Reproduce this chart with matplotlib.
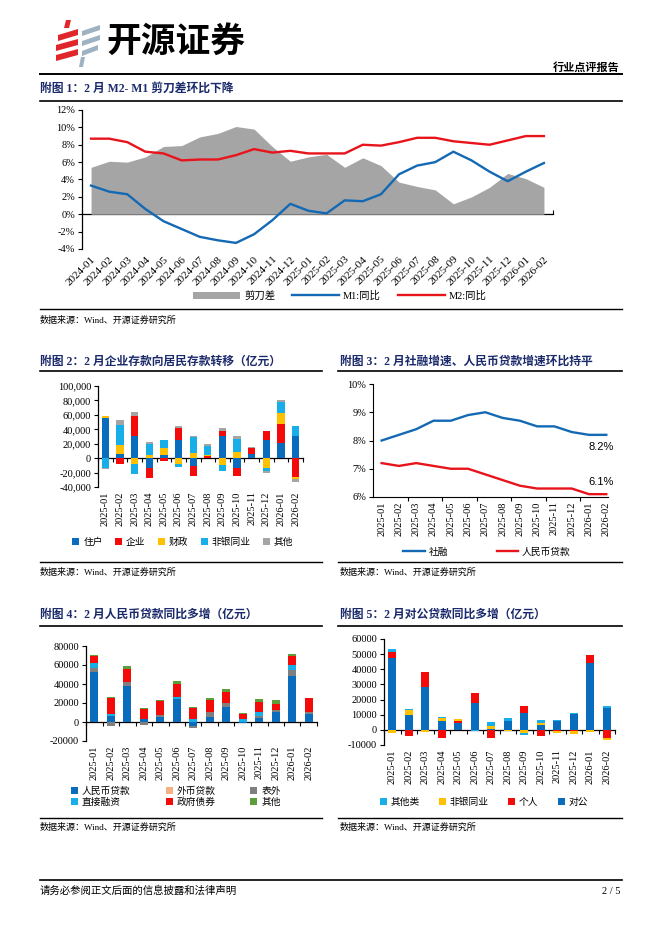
import matplotlib
matplotlib.use('Agg')
import matplotlib.pyplot as plt
from matplotlib.lines import Line2D
from matplotlib.patches import Patch, Polygon
from matplotlib.ticker import FuncFormatter
import numpy as np

plt.rcParams['font.family'] = ['Liberation Serif', 'Noto Sans CJK SC']
plt.rcParams['axes.unicode_minus'] = False

W, H = 662, 936
NAVY = '#1B2A6B'
BLUE = '#1469B4'
RED = '#E8141B'
BAR_BLUE = '#0A6CBD'
BAR_RED = '#F50A0A'
YELLOW = '#FFC000'
CYAN = '#18AEE8'
GRAY = '#A5A5A5'
GREEN = '#5E9E3A'
PEACH = '#F4B183'

# ---- 附图1: M1 / M2 / 剪刀差 ----
months_a = ['2024-01', '2024-02', '2024-03', '2024-04', '2024-05', '2024-06', '2024-07',
            '2024-08', '2024-09', '2024-10', '2024-11', '2024-12', '2025-01', '2025-02',
            '2025-03', '2025-04', '2025-05', '2025-06', '2025-07', '2025-08', '2025-09',
            '2025-10', '2025-11', '2025-12', '2026-01', '2026-02']
gap = [5.4, 6.1, 6.0, 6.6, 7.8, 7.9, 8.9, 9.3, 10.1, 9.8, 7.8, 6.1, 6.6, 6.9,
       5.4, 6.5, 5.6, 3.7, 3.2, 2.8, 1.2, 2.0, 3.1, 4.7, 4.1, 3.1]
m1 = [3.3, 2.6, 2.3, 0.6, -0.8, -1.7, -2.6, -3.0, -3.3, -2.3, -0.7, 1.2, 0.4, 0.1,
      1.6, 1.5, 2.3, 4.6, 5.6, 6.0, 7.2, 6.2, 4.9, 3.8, 4.9, 5.9]
m2 = [8.7, 8.7, 8.3, 7.2, 7.0, 6.2, 6.3, 6.3, 6.8, 7.5, 7.1, 7.3, 7.0, 7.0,
      7.0, 8.0, 7.9, 8.3, 8.8, 8.8, 8.4, 8.2, 8.0, 8.5, 9.0, 9.0]

months_b = ['2025-01', '2025-02', '2025-03', '2025-04', '2025-05', '2025-06', '2025-07',
            '2025-08', '2025-09', '2025-10', '2025-11', '2025-12', '2026-01', '2026-02']

# ---- 附图2: 存款 (亿元) ----
dep_household = [55000, 6000, 30300, -13300, 4600, 24800, -11000, 0, 30300, -13800, 6000, 25300, 21100, 30300]
dep_corp = [0, -8700, 28500, -13800, -3700, 17000, -14300, 2800, 7800, -11000, 7800, 12400, 26200, -25700]
dep_fiscal = [3700, 12400, -7800, 3700, 9700, -7800, 7800, 1500, -9200, 8300, 0, -13800, 15200, -3700]
dep_nonbank = [-13000, 28000, -13800, 16000, 11500, -5000, 21600, 13000, -9200, 18400, 0, -4100, 14700, 13800]
dep_other = [-1500, 6400, 5500, 3200, 0, 3200, 1400, 2500, 3200, 3700, 1000, -3200, 3200, -3700]

# ---- 附图3: 增速 (%) ----
tsf_growth = [8.0, 8.2, 8.4, 8.7, 8.7, 8.9, 9.0, 8.8, 8.7, 8.5, 8.5, 8.3, 8.2, 8.2]
loan_growth = [7.2, 7.1, 7.2, 7.1, 7.0, 7.0, 6.8, 6.6, 6.4, 6.3, 6.3, 6.3, 6.1, 6.1]

# ---- 附图4: 社融分项 (亿元) ----
sf_rmb = [52300, 6300, 38200, 3200, 5600, 23900, -4200, 5600, 16100, -700, 3900, 10500, 48900, 8000]
sf_fx = [0, 0, 0, 0, 0, 0, 0, 0, 0, 0, 0, 0, 0, 0]
sf_offbs = [4900, -3900, 3500, -2800, 2100, 0, -1800, 4900, 4200, 0, 2100, 1800, 5900, 2800]
sf_direct = [5300, 2100, 0, 300, 0, 2100, 2800, 0, 0, 2800, 4900, 0, 4900, 0]
sf_gov = [7000, 16500, 14400, 9800, 14700, 13700, 11900, 13000, 11600, 5300, 10500, 6300, 10100, 14000]
sf_other = [1400, 1000, 2800, 1000, 1000, 3500, 1400, 1400, 2800, 1400, 3200, 4600, 1700, 700]

# ---- 附图5: 贷款分项 (亿元) ----
ln_corp = [47500, 10000, 28000, 5700, 4600, 17500, 800, 5700, 11400, 3300, 5900, 10700, 44200, 14700]
ln_personal = [3900, -4200, 10500, -5300, 1100, 6600, -5300, 0, 4600, -3900, -1000, -500, 5500, -5700]
ln_nonbank = [-2000, 2800, -1500, 2000, 1300, 0, 1500, -900, -2000, 1300, -1300, -2000, -1500, -1100]
ln_other = [2200, 1100, 0, 700, 0, -700, 2600, 2000, -1300, 1800, 700, 300, 0, 1300]


def box(l, t, r, b):
    return [l / W, 1 - b / H, (r - l) / W, (b - t) / H]


def hline(y, x0, x1, lw=1.0):
    fig.add_artist(Line2D([x0 / W, x1 / W], [1 - y / H, 1 - y / H], color='black', lw=lw))


def text(x, y, s, **kw):
    kw.setdefault('va', 'center')
    fig.text(x / W, 1 - y / H, s, **kw)


def poly(pts, color):
    fig.add_artist(Polygon([(x / W, 1 - y / H) for x, y in pts], closed=True,
                           transform=fig.transFigure, color=color, lw=0))


def stack(ax, series, colors, width=0.5):
    x = np.arange(len(series[0]))
    pos = np.zeros(len(x))
    neg = np.zeros(len(x))
    for vals, c in zip(series, colors):
        v = np.asarray(vals, float)
        p = np.where(v > 0, v, 0)
        n = np.where(v < 0, v, 0)
        ax.bar(x, p, width, bottom=pos, color=c, lw=0)
        ax.bar(x, n, width, bottom=neg, color=c, lw=0)
        pos += p
        neg += n


def cat_axis(ax, labels, ymin, ymax, step, fmt, rot=90, tick_dir='out', xsize=7.5):
    n = len(labels)
    ax.set_xlim(-0.5, n - 0.5)
    ax.set_ylim(ymin, ymax)
    ax.set_yticks(np.arange(ymin, ymax + step / 2, step))
    ax.yaxis.set_major_formatter(FuncFormatter(fmt))
    for s in ['top', 'right', 'bottom']:
        ax.spines[s].set_visible(False)
    ax.spines['left'].set_linewidth(0.9)
    if rot == 90:
        ax.set_xticks(range(n), labels, rotation=90)
    else:
        ax.set_xticks(range(n), labels, rotation=rot, ha='right', rotation_mode='anchor')
    ax.tick_params(axis='x', length=0, pad=3, labelsize=xsize)
    ax.tick_params(axis='y', length=3, width=0.8, labelsize=7.5, pad=2)
    zero = ax.secondary_xaxis((0 - ymin) / (ymax - ymin))
    zero.set_xticks(np.arange(-0.5, n))
    zero.tick_params(length=3, width=0.8, direction=tick_dir, labelbottom=False)
    zero.spines['bottom'].set_linewidth(0.9)


def legend(handles, labels, x, y, **kw):
    opts = dict(loc='center', frameon=False, fontsize=7, handletextpad=0.4,
                borderaxespad=0, borderpad=0)
    opts.update(kw)
    fig.legend(handles, labels, bbox_to_anchor=(x / W, 1 - y / H), **opts)


def sq(c):
    return Patch(facecolor=c, edgecolor='none')


fig = plt.figure(figsize=(W / 100, H / 100), dpi=100)

# ---------- header ----------
poly([(66, 20), (71, 20), (69, 28), (64, 28)], '#E0262B')
poly([(58, 35), (78, 29), (78, 35), (58, 41)], '#E0262B')
poly([(56, 45), (78, 39), (78, 45), (56, 51)], '#E0262B')
poly([(56, 55), (78, 49), (78, 55), (56, 61)], '#E0262B')
poly([(82, 31), (100, 25), (100, 30), (82, 36)], '#9DB2C2')
poly([(82, 41), (100, 35), (100, 40), (82, 46)], '#9DB2C2')
poly([(82, 51), (98, 45), (98, 50), (82, 56)], '#9DB2C2')
poly([(81, 57), (85, 57), (83, 67), (79, 67)], '#9DB2C2')
text(106, 41, '开源证券', fontsize=25, fontweight='bold', family='Noto Sans CJK SC')
text(620, 67, '行业点评报告', fontsize=8, fontweight='bold', ha='right')
hline(74, 40, 622, lw=1.4)

# ---------- 附图1 ----------
text(40, 89, '附图 1：2 月 M2- M1 剪刀差环比下降', fontsize=8.5, fontweight='bold', color=NAVY)
hline(101, 40, 622, lw=1.2)
ax1 = fig.add_axes(box(82, 110, 553, 249))
x1 = np.arange(len(months_a))
ax1.fill_between(x1, 0, gap, color=GRAY, lw=0)
ax1.plot(x1, m1, color=BLUE, lw=1.7)
ax1.plot(x1, m2, color=RED, lw=1.7)
cat_axis(ax1, months_a, -4, 12, 2, lambda v, p: f'{v:.0f}%', rot=45, tick_dir='in', xsize=8)
ax1.tick_params(axis='x', pad=4)
legend([Patch(facecolor=GRAY), Line2D([], [], color=BLUE, lw=1.7), Line2D([], [], color=RED, lw=1.7)],
       ['剪刀差', 'M1:同比', 'M2:同比'], 340, 296, ncol=3, handlelength=4.5, columnspacing=1.6,
       fontsize=7.5)
hline(309, 40, 622, lw=1.0)
text(40, 320, '数据来源：Wind、开源证券研究所', fontsize=6.5)

# ---------- 附图2 ----------
text(40, 362, '附图 2：2 月企业存款向居民存款转移（亿元）', fontsize=8.5, fontweight='bold', color=NAVY)
hline(371, 40, 322, lw=1.2)
ax2 = fig.add_axes(box(98, 386, 303, 487))
stack(ax2, [dep_household, dep_corp, dep_fiscal, dep_nonbank, dep_other],
      [BAR_BLUE, BAR_RED, YELLOW, CYAN, GRAY])
cat_axis(ax2, months_b, -40000, 100000, 20000, lambda v, p: f'{v:,.0f}')
legend([sq(c) for c in [BAR_BLUE, BAR_RED, YELLOW, CYAN, GRAY]],
       ['住户', '企业', '财政', '非银同业', '其他'], 183, 542, ncol=5,
       handlelength=0.7, handleheight=0.7, columnspacing=1.3)
hline(562, 40, 322, lw=1.0)
text(40, 572, '数据来源：Wind、开源证券研究所', fontsize=6.5)

# ---------- 附图3 ----------
text(340, 362, '附图 3：2 月社融增速、人民币贷款增速环比持平', fontsize=8.5, fontweight='bold', color=NAVY)
hline(371, 338, 622, lw=1.2)
ax3 = fig.add_axes(box(373, 384, 608, 497))
x3 = np.arange(len(months_b))
ax3.plot(x3, tsf_growth, color=BLUE, lw=1.7)
ax3.plot(x3, loan_growth, color=RED, lw=1.7)
ax3.set_xlim(-0.5, 13.1)
ax3.set_ylim(6, 10)
ax3.set_yticks(np.arange(6, 10.5, 1))
ax3.yaxis.set_major_formatter(FuncFormatter(lambda v, p: f'{v:.0f}%'))
for s in ['top', 'right']:
    ax3.spines[s].set_visible(False)
ax3.set_xticks(x3, months_b, rotation=90)
ax3.set_xticks(np.arange(1.5, 13, 2), minor=True)
ax3.tick_params(axis='x', which='major', length=0, pad=3, labelsize=7.5)
ax3.tick_params(axis='x', which='minor', length=3, width=0.8)
ax3.tick_params(axis='y', length=3, width=0.8, labelsize=7.5, pad=2)
ax3.annotate(f'{tsf_growth[-1]:.1f}%', (x3[-1], tsf_growth[-1]), xytext=(-4, -9),
             textcoords='offset points', ha='center', va='center', fontsize=8, family='Liberation Sans')
ax3.annotate(f'{loan_growth[-1]:.1f}%', (x3[-1], loan_growth[-1]), xytext=(-4, 9),
             textcoords='offset points', ha='center', va='center', fontsize=8, family='Liberation Sans')
legend([Line2D([], [], color=BLUE, lw=1.7), Line2D([], [], color=RED, lw=1.7)],
       ['社融', '人民币贷款'], 487, 552, ncol=2, handlelength=2.2, columnspacing=5)
hline(562, 338, 622, lw=1.0)
text(340, 572, '数据来源：Wind、开源证券研究所', fontsize=6.5)

# ---------- 附图4 ----------
text(40, 615, '附图 4：2 月人民币贷款同比多增（亿元）', fontsize=8.5, fontweight='bold', color=NAVY)
hline(626, 40, 322, lw=1.2)
ax4 = fig.add_axes(box(86, 646, 317, 741))
stack(ax4, [sf_rmb, sf_fx, sf_offbs, sf_direct, sf_gov, sf_other],
      [BAR_BLUE, PEACH, '#7F7F7F', CYAN, BAR_RED, GREEN])
cat_axis(ax4, months_b, -20000, 80000, 20000, lambda v, p: f'{v:.0f}')
legend([sq(BAR_BLUE), sq(CYAN), sq(PEACH), sq(BAR_RED), sq('#7F7F7F'), sq(GREEN)],
       ['人民币贷款', '直接融资', '外币贷款', '政府债券', '表外', '其他'], 176, 797, ncol=3,
       handlelength=0.7, handleheight=0.7, columnspacing=3.6, labelspacing=0.15)
hline(818, 40, 322, lw=1.0)
text(40, 827, '数据来源：Wind、开源证券研究所', fontsize=6.5)

# ---------- 附图5 ----------
text(340, 615, '附图 5：2 月对公贷款同比多增（亿元）', fontsize=8.5, fontweight='bold', color=NAVY)
hline(626, 338, 622, lw=1.2)
ax5 = fig.add_axes(box(384, 639, 615, 745))
stack(ax5, [ln_corp, ln_personal, ln_nonbank, ln_other], [BAR_BLUE, BAR_RED, YELLOW, CYAN])
cat_axis(ax5, months_b, -10000, 60000, 10000, lambda v, p: f'{v:.0f}')
legend([sq(CYAN), sq(YELLOW), sq(BAR_RED), sq(BAR_BLUE)],
       ['其他类', '非银同业', '个人', '对公'], 484, 802, ncol=4,
       handlelength=0.7, handleheight=0.7, columnspacing=2.0)
hline(818, 338, 622, lw=1.0)
text(340, 827, '数据来源：Wind、开源证券研究所', fontsize=6.5)

# ---------- footer ----------
hline(880, 40, 622, lw=1.2)
text(40, 891, '请务必参阅正文后面的信息披露和法律声明', fontsize=7.5)
text(620, 891, '2 / 5', fontsize=7.5, ha='right')

fig.savefig('out.png', dpi=100)
